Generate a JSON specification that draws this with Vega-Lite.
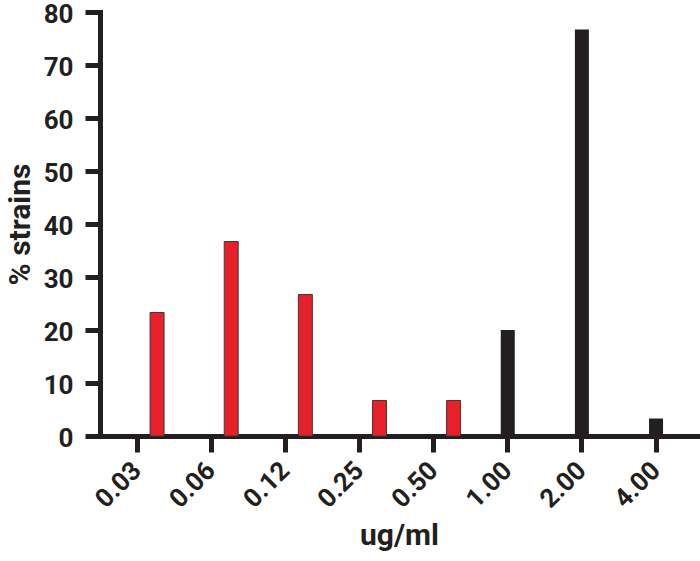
{
  "$schema": "https://vega.github.io/schema/vega-lite/v6.json",
  "width": 598,
  "height": 424,
  "autosize": "none",
  "padding": {"left": 100, "top": 12, "right": 2, "bottom": 125},
  "background": "white",
  "config": {
    "view": {"stroke": null},
    "font": "Roboto, sans-serif"
  },
  "data": {
    "values": [
      {"mic": "0.03", "group": "red", "pct": 23.3},
      {"mic": "0.06", "group": "red", "pct": 36.7},
      {"mic": "0.12", "group": "red", "pct": 26.7},
      {"mic": "0.25", "group": "red", "pct": 6.7},
      {"mic": "0.50", "group": "red", "pct": 6.7},
      {"mic": "1.00", "group": "black", "pct": 20.0},
      {"mic": "2.00", "group": "black", "pct": 76.7},
      {"mic": "4.00", "group": "black", "pct": 3.3}
    ]
  },
  "encoding": {
    "x": {
      "field": "mic",
      "type": "nominal",
      "sort": null,
      "title": "ug/ml",
      "scale": {"paddingInner": 0, "paddingOuter": 0.033, "align": 0},
      "axis": {
        "domainColor": "#231f20",
        "domainWidth": 5,
        "domainCap": "square",
        "tickColor": "#231f20",
        "tickWidth": 5,
        "tickSize": 16,
        "labelAngle": -45,
        "labelAlign": "right",
        "labelBaseline": "middle",
        "labelFontSize": 26,
        "labelFontWeight": "bold",
        "labelColor": "#231f20",
        "labelPadding": 14,
        "titleFontSize": 30,
        "titleFontWeight": "bold",
        "titleColor": "#231f20",
        "titlePadding": 8,
        "grid": false
      }
    },
    "y": {
      "field": "pct",
      "type": "quantitative",
      "title": "% strains",
      "scale": {"domain": [0, 80], "nice": false},
      "axis": {
        "values": [0, 10, 20, 30, 40, 50, 60, 70, 80],
        "domainColor": "#231f20",
        "domainWidth": 5,
        "domainCap": "square",
        "tickColor": "#231f20",
        "tickWidth": 5,
        "tickSize": 15,
        "labelFontSize": 26,
        "labelFontWeight": "bold",
        "labelColor": "#231f20",
        "labelPadding": 12,
        "labelOffset": 2,
        "labelFlush": false,
        "titleFontSize": 30,
        "titleFontWeight": "bold",
        "titleColor": "#231f20",
        "titlePadding": 8,
        "grid": false
      }
    }
  },
  "layer": [
    {
      "transform": [{"filter": "datum.group === 'red'"}],
      "mark": {"type": "bar", "size": 14, "xOffset": 20, "color": "#e8202a", "stroke": "#3a3a3a", "strokeWidth": 1}
    },
    {
      "transform": [{"filter": "datum.group === 'black'"}],
      "mark": {"type": "bar", "size": 14, "color": "#231f20"}
    }
  ]
}
